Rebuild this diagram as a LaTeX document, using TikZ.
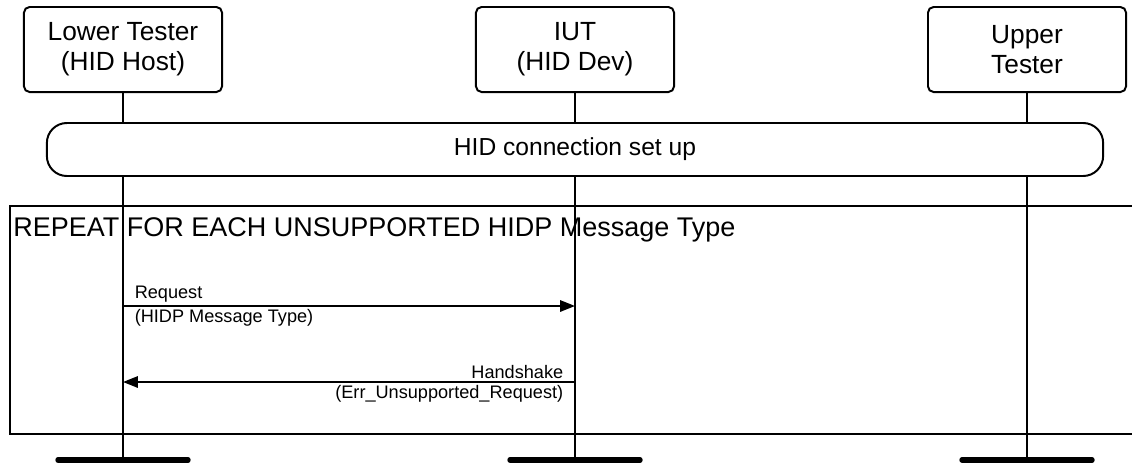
\documentclass[tikz,border=0pt]{standalone}
\usepackage{fontspec}
\setmainfont{Liberation Sans}
\usetikzlibrary{positioning,
                arrows.meta}                % arrow tips

\begin{document}
\begin{tikzpicture}[x=0.025cm, y=-0.025cm,
        every node/.style={font=\fontsize{17.5}{21}\selectfont},
        party/.style={draw, line width=1.4pt, rounded corners=4pt, align=center,
                      font=\fontsize{18.7}{21.5}\selectfont,
                      minimum width=4.95cm, minimum height=2.125cm},
        phase/.style={draw, line width=1.4pt, rounded corners=0.5cm,
                      minimum width=26.4cm, minimum height=1.325cm},
        life/.style={line width=1.4pt},
        bar/.style={line width=3.8pt, line cap=round},
        msg/.style={line width=1.4pt, -{Triangle[length=10.5pt, width=8pt]}},
        lbl/.style={font=\fontsize{12.9}{15}\selectfont, inner sep=2pt}]

                \useasboundingbox (0,0) rectangle (1132,462);

                % the three parties
                \node[party] (lt)  at (123,49.5)  {Lower Tester\\(HID Host)};
                \node[party] (iut) at (575,49.5)  {IUT\\(HID Dev)};
                \node[party] (ut)  at (1027,49.5) {Upper\\Tester};

                \node[phase] (setup) at (575,149.5) {HID connection set up};

                \coordinate (ltend)  at (123,460);
                \coordinate (iutend) at (575,460);
                \coordinate (utend)  at (1027,460);

                % lifelines
                \foreach \p in {lt, iut, ut} {
                        \draw[life] (\p) -- (setup.north -| \p);
                        \draw[life] (setup.south -| \p) -- (\p end);
                        \draw[bar] ([xshift=-1.625cm]\p end) -- ([xshift=1.625cm]\p end);
                }

                % repeat frame
                \draw[life] (1140,206) -- (10,206) -- (10,434) -- (1140,434);
                \node[anchor=base west, inner sep=0, font=\fontsize{19.2}{23}\selectfont] (title) at (13,236)
                        {REPEAT FOR EACH UNSUPPORTED HIDP Message Type};

                \coordinate (reqy) at (0,306);
                \coordinate (hsy)  at (0,382);

                \draw[msg] (lt |- reqy) -- (iut |- reqy)
                        node[lbl, pos=0, above right, xshift=0.2cm] (req) {Request}
                        node[lbl, pos=0, below right, xshift=0.2cm] (reqarg) {(HIDP Message Type)};
                \draw[msg] (iut |- hsy) -- (lt |- hsy)
                        node[lbl, pos=0, above left, xshift=-0.2cm] (hs) {Handshake}
                        node[lbl, pos=0, below left, xshift=-0.2cm] (hsarg) {(Err\_Unsupported\_Request)};

        \end{tikzpicture}
\end{document}
